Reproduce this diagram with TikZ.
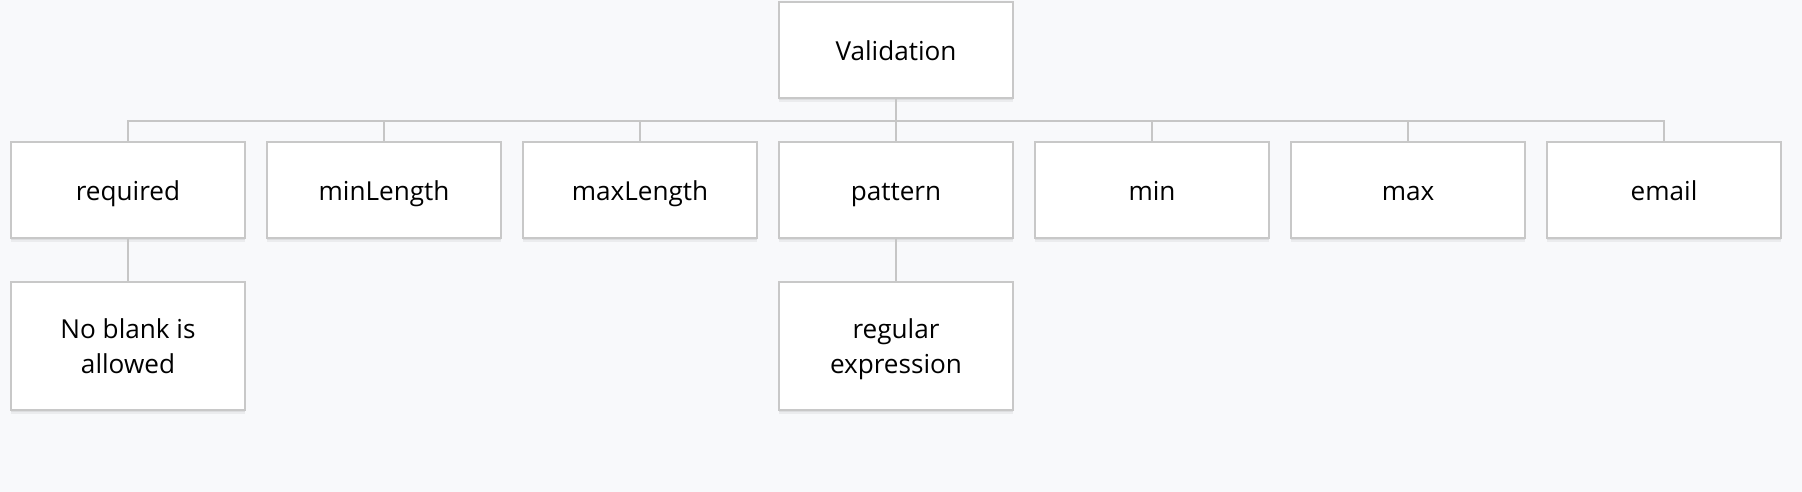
\documentclass[tikz,border=0pt]{standalone}
\usepackage{fontspec}
\setmainfont{Open Sans}
\usetikzlibrary{shadows}
\definecolor{bgC}{HTML}{F8F9FB}
\definecolor{edgeC}{HTML}{C8C8C8}
\definecolor{wireC}{HTML}{C6C6C6}

\begin{document}
\begin{tikzpicture}[x=0.75pt,y=-0.75pt,
  basebox/.style={draw=edgeC, line width=1.5pt, fill=white, shape=rectangle,
    minimum width=175pt, align=center,
    font=\fontsize{19.6}{26.25}\selectfont,
    drop shadow={shadow xshift=0pt, shadow yshift=-3pt, opacity=0.05, fill=black},
    drop shadow={shadow xshift=0pt, shadow yshift=-1.5pt, opacity=0.06, fill=black}},
  box/.style={basebox, minimum height=72pt, text height=15.5pt, text depth=0pt},
  tallbox/.style={basebox, minimum height=96pt, text depth=0pt},
  wire/.style={draw=wireC, line width=1.5pt}]
\fill[bgC] (0,0) rectangle (1802,492);
\useasboundingbox (0,0) rectangle (1802,492);

\node[box] (val) at (896,49.8) {Validation};

\node[box] (req) at (128,189.7) {required};
\node[box] (minl) at (384,189.7) {minLength};
\node[box] (maxl) at (640,189.7) {maxLength};
\node[box] (pat) at (896,189.7) {pattern};
\node[box] (mn) at (1152,189.7) {min};
\node[box] (mx) at (1408,189.7) {max};
\node[box] (mail) at (1664,189.7) {email};

\node[tallbox] (blank) at (128,345.7) {No blank is\\allowed};
\node[tallbox] (regex) at (896,345.7) {regular\\expression};

\coordinate (bus) at (896,120.7);
\draw[wire] (val.south) -- (bus);
\foreach \n in {req,minl,maxl,pat,mn,mx,mail}
  \draw[wire] (bus) -| (\n.north);
\draw[wire] (req.south) -- (blank.north);
\draw[wire] (pat.south) -- (regex.north);

\end{tikzpicture}
\end{document}
